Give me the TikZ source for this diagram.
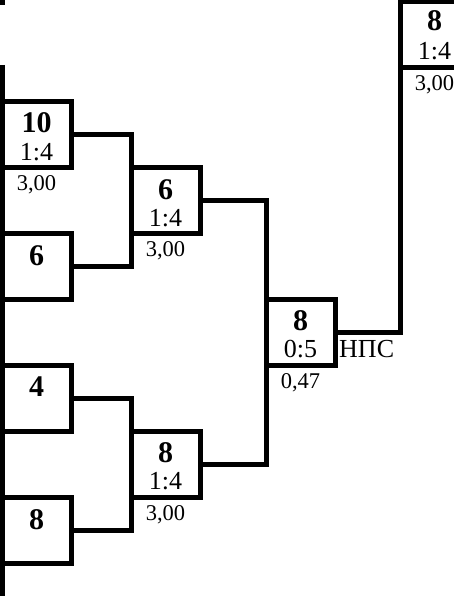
\documentclass[tikz,border=0pt]{standalone}
\usepackage{fontspec}
\setmainfont{Liberation Serif}
\usetikzlibrary{positioning}

\begin{document}
\begin{tikzpicture}[x=1pt,y=-1pt,
cell/.style={draw,line width=5pt,outer sep=0pt,minimum width=69pt,minimum height=66pt},
num/.style={font=\fontsize{30}{30}\selectfont\bfseries,inner sep=0pt},
score/.style={font=\fontsize{26}{26}\selectfont,inner sep=0pt},
coef/.style={font=\fontsize{22.5}{22.5}\selectfont,inner sep=0pt},
link/.style={line width=5pt}
]
\useasboundingbox (0,0) rectangle (453,596);

% first round
\node[cell] (a1) at (36.5,134.5) {};
\node[cell,below=66pt of a1] (a2) {};
\node[cell,below=66pt of a2] (a3) {};
\node[cell,below=66pt of a3] (a4) {};
\node[num,below=11pt of a1.north] (n1) {10};
\node[score,below=9.5pt of n1] (s1) {1:4};
\node[coef,below=7.5pt of a1.south] (k1) {3,00};
\node[num,below=11.5pt of a2.north] (n2) {6};
\node[num,below=11.5pt of a3.north] (n3) {4};
\node[num,below=11.5pt of a4.north] (n4) {8};

% second round
\node[cell] (b1) at (165.5,200.5) {};
\node[cell] (b2) at (165.5,464.5) {};
\node[num,below=11.5pt of b1.north] (n5) {6};
\node[score,below=9.5pt of n5] (s5) {1:4};
\node[coef,below=8pt of b1.south] (k5) {3,00};
\node[num,below=10.5pt of b2.north] (n6) {8};
\node[score,below=9.5pt of n6] (s6) {1:4};
\node[coef,below=8pt of b2.south] (k6) {3,00};

% third round
\node[cell] (c1) at (300.5,332.5) {};
\node[num,below=10.5pt of c1.north] (n7) {8};
\node[score,below=9.5pt of n7] (s7) {0:5};
\node[coef,below=7.5pt of c1.south] (k7) {0,47};
\node[score,anchor=base west] (npc) at ([xshift=4pt]c1.east |- s7.base) {НПС};

% final
\node[cell] (d1) at (434.5,34.75) {};
\node[num,below=8.5pt of d1.north] (n8) {8};
\node[score,below=11pt of n8] (s8) {1:4};
\node[coef,below=8pt of d1.south] (k8) {3,00};

% brackets
\coordinate (trunktop) at (2,65);
\coordinate (trunkbot) at (2,600);
\coordinate (stubtop) at (2,-3);
\coordinate (stubbot) at (2,5);
\draw[link] (trunktop) -- (trunkbot);
\draw[link] (stubtop) -- (stubbot);
\draw[link] (a1.east) -| (b1.west) |- (a2.east);
\draw[link] (a3.east) -| (b2.west) |- (a4.east);
\draw[link] (b1.east) -| (c1.west) |- (b2.east);
\draw[link] (c1.east) -| (d1.north west) -- ++(0,-6);
\end{tikzpicture}
\end{document}
